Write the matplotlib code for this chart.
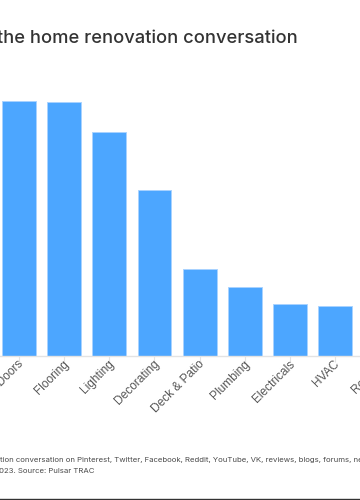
import numpy as np
import matplotlib.pyplot as plt
import matplotlib.transforms as mtransforms
from matplotlib.lines import Line2D

# visible part of the chart (it is cropped on both sides)
categories = ["Windows & Doors", "Flooring", "Lighting", "Decorating", "Deck & Patio",
              "Plumbing", "Electricals", "HVAC", "Roofing"]
values = [25.5, 25.4, 22.4, 16.6, 8.7, 6.9, 5.2, 5.0, 4.6]

title = "the home renovation conversation"
note1 = "tion conversation on Pinterest, Twitter, Facebook, Reddit, YouTube, VK, reviews, blogs, forums, news"
note2 = "023. Source: Pulsar TRAC"

W, H = 360, 500
fig = plt.figure(figsize=(W / 100, H / 100), dpi=100)

step = 45.15
first = 19.0
ax = fig.add_axes([0, (H - 356) / H, 1, (356 - 80) / H])
x = np.arange(len(categories))
ax.bar(x, values, width=0.75, color="#4ca6ff", edgecolor="#a9d3ff", linewidth=0.7, zorder=2)

for s in ["top", "right", "left"]:
    ax.spines[s].set_visible(False)
ax.spines["bottom"].set_color("#e3e3e3")
ax.spines["bottom"].set_linewidth(1)
ax.set_yticks([])
ax.set_xticks(x)
ax.set_xticklabels([])
ax.tick_params(axis="x", length=4, width=0.8, color="#e3e3e3")

# labels drawn by hand so the cropped one at the right edge still shows
offset = mtransforms.ScaledTranslation(3 / 100, -6.4 / 100, fig.dpi_scale_trans)
for i, cat in zip(x, categories):
    ax.text(i, 0, cat, transform=ax.get_xaxis_transform() + offset, rotation=45,
            ha="right", va="center", rotation_mode="anchor", clip_on=False,
            fontsize=8.6, color="#555555", family="Liberation Sans")

# limits after the ticks, so the crop stays as in the original
ax.set_xlim(-first / step, (W - first) / step)
ax.set_ylim(0, 27.6)

fig.text(-3 / W, 1 - 43 / H, title, fontsize=13.2, color="#333333", family="Inter",
         weight="medium", ha="left", va="baseline")
fig.text(0.5 / W, 1 - 460 / H, note1, fontsize=5.6, color="#4a4a4a", family="Inter",
         ha="left", va="center")
fig.text(-1 / W, 1 - 471 / H, note2, fontsize=5.6, color="#4a4a4a", family="Inter",
         ha="left", va="center")

fig.add_artist(Line2D([0, 1], [1 - 499 / H, 1 - 499 / H], transform=fig.transFigure,
                      color="#333333", linewidth=1.0))

fig.savefig("out.png", dpi=100)
